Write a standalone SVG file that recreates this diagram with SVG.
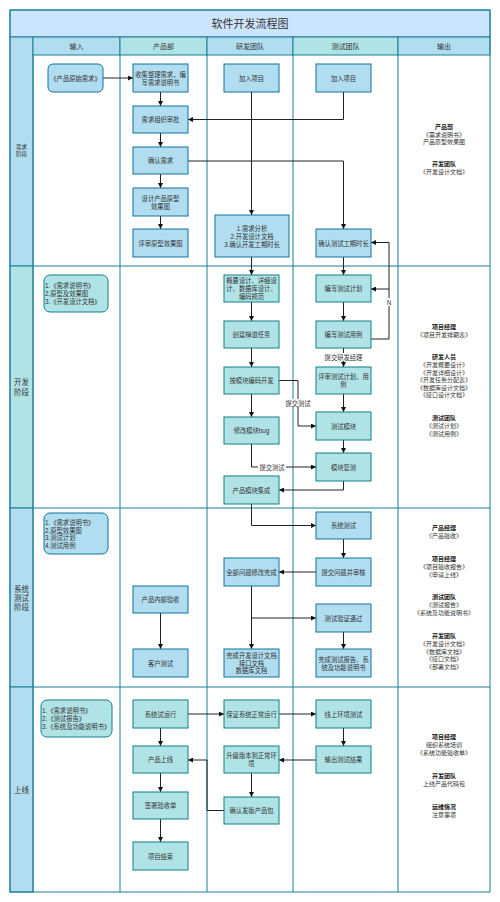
<svg xmlns="http://www.w3.org/2000/svg" width="500" height="902" viewBox="0 0 500 902">
<style>
text{font-family:"Liberation Sans","Noto Sans CJK SC",sans-serif;fill:#333;}
.t{font-size:6.3px;text-anchor:middle;dominant-baseline:central;}
.o{font-size:6px;text-anchor:middle;dominant-baseline:central;}
.tl{font-size:6.3px;text-anchor:start;dominant-baseline:central;}
.b{font-weight:bold;fill:#222;}
.hd{font-size:7px;text-anchor:middle;dominant-baseline:central;}
.ph{font-size:7.5px;text-anchor:middle;dominant-baseline:central;}
.blue{fill:#b1ddf0;stroke:#10739e;stroke-width:1;}
.teal{fill:#b0e3e6;stroke:#0e8088;stroke-width:1;}
.lane{fill:none;stroke:#1b7f95;stroke-width:1;}
.c{fill:none;stroke:#222;stroke-width:1;marker-end:url(#ah);}
.lbl{font-size:6.3px;text-anchor:middle;dominant-baseline:central;}
</style>
<defs>
<marker id="ah" viewBox="0 0 10 10" refX="10" refY="5" markerWidth="5" markerHeight="5" markerUnits="userSpaceOnUse" orient="auto"><path d="M0,0 L10,5 L0,10 z" fill="#111"/></marker>
</defs>
<rect width="500" height="902" fill="#fff"/>
<g id="lanes">
<rect x="10" y="10" width="480" height="27" fill="#cce5ff" stroke="#1b7f95"/>
<text x="250" y="23.5" style="font-size:11px;text-anchor:middle;dominant-baseline:central;">软件开发流程图</text>
<rect x="10" y="37" width="23" height="229" fill="#b1ddf0" stroke="#1b7f95"/>
<rect x="10" y="266" width="23" height="242" fill="#b0e3e6" stroke="#1b7f95"/>
<rect x="10" y="508" width="23" height="179" fill="#b1ddf0" stroke="#1b7f95"/>
<rect x="10" y="687" width="23" height="205" fill="#b1ddf0" stroke="#1b7f95"/>
<rect x="33" y="37" width="87" height="18" fill="#b1ddf0" stroke="#1b7f95"/>
<rect x="120" y="37" width="87" height="18" fill="#b0e3e6" stroke="#1b7f95"/>
<rect x="207" y="37" width="86" height="18" fill="#b1ddf0" stroke="#1b7f95"/>
<rect x="293" y="37" width="105" height="18" fill="#b0e3e6" stroke="#1b7f95"/>
<rect x="398" y="37" width="92" height="18" fill="#b1ddf0" stroke="#1b7f95"/>
<text class="hd" x="76.5" y="46">输入</text>
<text class="hd" x="163.5" y="46">产品部</text>
<text class="hd" x="250" y="46">研发团队</text>
<text class="hd" x="345.5" y="46">测试团队</text>
<text class="hd" x="444" y="46">输出</text>
<path class="lane" d="M33,55 V892 M120,55 V892 M207,55 V892 M293,55 V892 M398,55 V892 M33,266 H490 M33,508 H490 M33,687 H490"/>
<rect x="10" y="10" width="480" height="882" class="lane"/>
<text x="21.5" y="147" style="font-size:5.5px;text-anchor:middle;dominant-baseline:central;">需求</text>
<text x="21.5" y="154" style="font-size:5.5px;text-anchor:middle;dominant-baseline:central;">阶段</text>
<text class="ph" x="21.5" y="382">开发</text>
<text class="ph" x="21.5" y="392">阶段</text>
<text class="ph" x="21.5" y="589">系统</text>
<text class="ph" x="21.5" y="598">测试</text>
<text class="ph" x="21.5" y="607">阶段</text>
<text class="ph" x="21.5" y="790">上线</text>
</g>
<g id="connectors">
<path class="c" d="M103,78 H133"/>
<path class="c" d="M160.5,92 V106"/>
<path class="c" d="M160.5,133 V147"/>
<path class="c" d="M160.5,174 V188"/>
<path class="c" d="M160.5,216 V229"/>
<path class="c" d="M251.5,92 V215"/>
<path class="c" d="M343.5,92 V119.5 H188"/>
<path class="c" d="M188,161 H343.5 V229"/>
<path class="c" d="M251.5,257 V275"/>
<path class="c" d="M343.5,257 V275"/>
<path class="c" d="M371,339 H389 V242.5 H371"/>
<path class="c" d="M389,289 H371"/>
<path class="c" d="M251.5,302 V321"/>
<path class="c" d="M251.5,348 V367"/>
<path class="c" d="M251.5,394 V417"/>
<path class="c" d="M279,380.5 H298 V426 H316"/>
<path class="c" d="M343.5,302 V321"/>
<path class="c" d="M343.5,348 V367"/>
<path class="c" d="M343.5,394 V412"/>
<path class="c" d="M343.5,440 V453"/>
<path class="c" d="M251.5,444 V467 H316"/>
<path class="c" d="M343.5,481 V490 H279"/>
<path class="c" d="M251.5,504 V525.5 H316"/>
<path class="c" d="M343.5,539 V558"/>
<path class="c" d="M316,572 H279"/>
<path class="c" d="M251.5,586 V649"/>
<path class="c" d="M251.5,618 H316"/>
<path class="c" d="M343.5,632 V649"/>
<path class="c" d="M160.5,613 V649"/>
<path class="c" d="M188,714 H224"/>
<path class="c" d="M279,714 H316"/>
<path class="c" d="M343.5,728 V746"/>
<path class="c" d="M316,760 H279"/>
<path class="c" d="M251.5,773 V797"/>
<path class="c" d="M224,810.5 H207 V760 H188"/>
<path class="c" d="M160.5,728 V746"/>
<path class="c" d="M160.5,773 V792"/>
<path class="c" d="M160.5,819 V842"/>
<rect x="385" y="298" width="8" height="8" fill="#fff"/>
<text class="lbl" x="389" y="302">N</text>
<rect x="322" y="353" width="43" height="8" fill="#fff"/>
<text class="lbl" x="343.5" y="357">提交研发经理</text>
<rect x="284" y="399" width="28" height="8" fill="#fff"/>
<text class="lbl" x="298" y="403">提交测试</text>
<rect x="258" y="463" width="28" height="8" fill="#fff"/>
<text class="lbl" x="272" y="467">提交测试</text>
</g>
<g id="n1"><rect class="blue" x="48" y="64" width="55" height="28" rx="5"/><text class="t" x="75.5" y="78">《产品原始需求》</text></g>
<g id="n2"><rect class="blue" x="133" y="64" width="55" height="28"/><text class="t" x="160.5" y="74">收集整理需求，编</text><text class="t" x="160.5" y="82">写需求说明书</text></g>
<g id="n3"><rect class="blue" x="133" y="106" width="55" height="27"/><text class="t" x="160.5" y="119.5">需求组织审批</text></g>
<g id="n4"><rect class="blue" x="224" y="64" width="55" height="28"/><text class="t" x="251.5" y="78">加入项目</text></g>
<g id="n5"><rect class="blue" x="316" y="64" width="55" height="28"/><text class="t" x="343.5" y="78">加入项目</text></g>
<g id="n6"><rect class="blue" x="133" y="147" width="55" height="27"/><text class="t" x="160.5" y="160.5">确认需求</text></g>
<g id="n7"><rect class="blue" x="133" y="188" width="55" height="28"/><text class="t" x="160.5" y="198">设计产品原型</text><text class="t" x="160.5" y="206">效果图</text></g>
<g id="n8"><rect class="blue" x="133" y="229" width="55" height="28"/><text class="t" x="160.5" y="243">评审原型效果图</text></g>
<g id="n9"><rect class="blue" x="215" y="215" width="74" height="42"/><text class="t" x="252" y="228">1.需求分析</text><text class="t" x="252" y="236">2.开发设计文档</text><text class="t" x="252" y="244">3.确认开发工期时长</text></g>
<g id="n10"><rect class="blue" x="316" y="229" width="55" height="28"/><text class="t" x="343.5" y="243">确认测试工期时长</text></g>
<g id="o1">
<text class="o b" x="444" y="127">产品部</text>
<text class="o" x="444" y="134.5">《需求说明书》</text>
<text class="o" x="444" y="142">产品原型效果图</text>
<text class="o b" x="444" y="164">开发团队</text>
<text class="o" x="444" y="172">《开发设计文档》</text>
</g>
<g id="in2"><rect class="teal" x="44" y="275" width="64" height="37" rx="6"/><text class="tl" x="45" y="285">1.《需求说明书》</text><text class="tl" x="45" y="293">2.原型及效果图</text><text class="tl" x="45" y="301">3.《开发设计文档》</text></g>
<g id="d1"><rect class="teal" x="224" y="275" width="55" height="27"/><text class="t" x="251.5" y="280.5">概要设计、详细设</text><text class="t" x="251.5" y="288.5">计、数据库设计、</text><text class="t" x="251.5" y="296.5">编码规范</text></g>
<g id="d2"><rect class="teal" x="224" y="321" width="55" height="27"/><text class="t" x="251.5" y="334.5">创建禅道任务</text></g>
<g id="d3"><rect class="teal" x="224" y="367" width="55" height="27"/><text class="t" x="251.5" y="380.5">按模块编码开发</text></g>
<g id="d4"><rect class="teal" x="224" y="417" width="55" height="27"/><text class="t" x="251.5" y="430.5">修改模块bug</text></g>
<g id="d5"><rect class="teal" x="224" y="476" width="55" height="28"/><text class="t" x="251.5" y="490">产品模块集成</text></g>
<g id="t1"><rect class="teal" x="316" y="275" width="55" height="27"/><text class="t" x="343.5" y="288.5">编写测试计划</text></g>
<g id="t2"><rect class="teal" x="316" y="321" width="55" height="27"/><text class="t" x="343.5" y="334.5">编写测试用例</text></g>
<g id="t3"><rect class="teal" x="316" y="367" width="55" height="27"/><text class="t" x="343.5" y="376.5">评审测试计划、用</text><text class="t" x="343.5" y="384.5">例</text></g>
<g id="t4"><rect class="teal" x="316" y="412" width="55" height="28"/><text class="t" x="343.5" y="426">测试模块</text></g>
<g id="t5"><rect class="teal" x="316" y="453" width="55" height="28"/><text class="t" x="343.5" y="467">模块复测</text></g>
<g id="o2">
<text class="o b" x="444" y="327">项目经理</text>
<text class="o" x="444" y="334.5">《项目开发排期表》</text>
<text class="o b" x="444" y="357">研发人员</text>
<text class="o" x="444" y="365">《开发概要设计》</text>
<text class="o" x="444" y="372.5">《开发详细设计》</text>
<text class="o" x="444" y="380">《开发任务分配表》</text>
<text class="o" x="444" y="387.5">《数据库设计文档》</text>
<text class="o" x="444" y="395">《接口设计文档》</text>
<text class="o b" x="444" y="418">测试团队</text>
<text class="o" x="444" y="426">《测试计划》</text>
<text class="o" x="444" y="433.5">《测试用例》</text>
</g>
<g id="in3"><rect class="blue" x="44" y="513" width="64" height="41" rx="6"/><text class="tl" x="45" y="522">1.《需求说明书》</text><text class="tl" x="45" y="530">2.原型效果图</text><text class="tl" x="45" y="537.5">3.测试计划</text><text class="tl" x="45" y="545">4.测试用例</text></g>
<g id="s1"><rect class="blue" x="316" y="512" width="55" height="27"/><text class="t" x="343.5" y="525.5">系统测试</text></g>
<g id="s2"><rect class="blue" x="316" y="558" width="55" height="28"/><text class="t" x="343.5" y="572">提交问题并审核</text></g>
<g id="s3"><rect class="blue" x="316" y="604" width="55" height="28"/><text class="t" x="343.5" y="618">测试验证通过</text></g>
<g id="s4"><rect class="blue" x="316" y="649" width="55" height="28"/><text class="t" x="343.5" y="659">完成测试报告、系</text><text class="t" x="343.5" y="667">统及功能说明书</text></g>
<g id="s5"><rect class="blue" x="224" y="558" width="55" height="28"/><text class="t" x="251.5" y="572">全部问题修改完成</text></g>
<g id="s6"><rect class="blue" x="224" y="649" width="55" height="28"/><text class="t" x="251.5" y="655.5">完成开发设计文档</text><text class="t" x="251.5" y="663">接口文档</text><text class="t" x="251.5" y="670.5">数据库文档</text></g>
<g id="s7"><rect class="blue" x="133" y="586" width="55" height="27"/><text class="t" x="160.5" y="599.5">产品内部验收</text></g>
<g id="s8"><rect class="blue" x="133" y="649" width="55" height="28"/><text class="t" x="160.5" y="663">客户测试</text></g>
<g id="o3">
<text class="o b" x="444" y="528">产品经理</text>
<text class="o" x="444" y="536">《产品验收》</text>
<text class="o b" x="444" y="559">项目经理</text>
<text class="o" x="444" y="567">《项目验收报告》</text>
<text class="o" x="444" y="574.5">《申请上线》</text>
<text class="o b" x="444" y="597">测试团队</text>
<text class="o" x="444" y="605">《测试报告》</text>
<text class="o" x="444" y="612.5">《系统及功能说明书》</text>
<text class="o b" x="444" y="636">开发团队</text>
<text class="o" x="444" y="644">《开发设计文档》</text>
<text class="o" x="444" y="651.5">《数据库文档》</text>
<text class="o" x="444" y="659">《接口文档》</text>
<text class="o" x="444" y="666.5">《部署文档》</text>
</g>
<g id="in4"><rect class="teal" x="41" y="700" width="71" height="37" rx="6"/><text class="tl" x="42" y="710">1.《需求说明书》</text><text class="tl" x="42" y="718">2.《测试报告》</text><text class="tl" x="42" y="726">3.《系统及功能说明书》</text></g>
<g id="u1"><rect class="teal" x="133" y="700" width="55" height="28"/><text class="t" x="160.5" y="714">系统试运行</text></g>
<g id="u2"><rect class="teal" x="133" y="746" width="55" height="27"/><text class="t" x="160.5" y="759.5">产品上线</text></g>
<g id="u3"><rect class="teal" x="133" y="792" width="55" height="27"/><text class="t" x="160.5" y="805.5">签署验收单</text></g>
<g id="u4"><rect class="teal" x="133" y="842" width="55" height="28"/><text class="t" x="160.5" y="856">项目结束</text></g>
<g id="u5"><rect class="teal" x="224" y="700" width="55" height="28"/><text class="t" x="251.5" y="714">保证系统正常运行</text></g>
<g id="u6"><rect class="teal" x="224" y="746" width="55" height="27"/><text class="t" x="251.5" y="755.5">升级版本到正常环</text><text class="t" x="251.5" y="763.5">境</text></g>
<g id="u7"><rect class="teal" x="224" y="797" width="55" height="27"/><text class="t" x="251.5" y="810.5">确认发版产品包</text></g>
<g id="u8"><rect class="teal" x="316" y="700" width="55" height="28"/><text class="t" x="343.5" y="714">线上环境测试</text></g>
<g id="u9"><rect class="teal" x="316" y="746" width="55" height="27"/><text class="t" x="343.5" y="759.5">输出测试结果</text></g>
<g id="o4">
<text class="o b" x="444" y="737">项目经理</text>
<text class="o" x="444" y="745">组织系统培训</text>
<text class="o" x="444" y="753">《系统功能验收单》</text>
<text class="o b" x="444" y="776">开发团队</text>
<text class="o" x="444" y="784">上线产品代码包</text>
<text class="o b" x="444" y="807">运维情况</text>
<text class="o" x="444" y="815">注意事项</text>
</g>
</svg>
